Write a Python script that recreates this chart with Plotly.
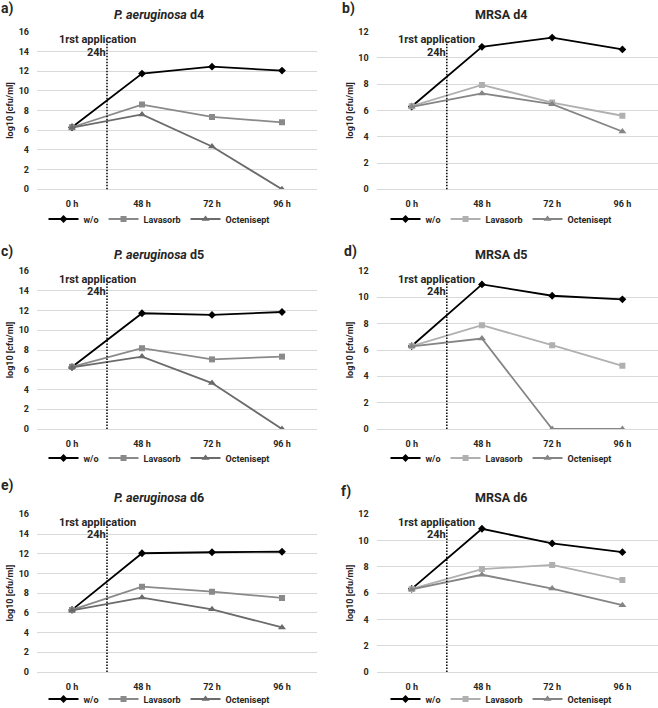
import plotly.graph_objects as go

categories = ["0 h", "48 h", "72 h", "96 h"]
series_names = ["w/o", "Lavasorb", "Octenisept"]

panel_labels = ["a)", "b)", "c)", "d)", "e)", "f)"]
panel_titles = ["<i>P. aeruginosa</i> d4", "MRSA d4",
                "<i>P. aeruginosa</i> d5", "MRSA d5",
                "<i>P. aeruginosa</i> d6", "MRSA d6"]

# values (log10 cfu/ml)
a_wo = [6.3, 11.75, 12.45, 12.05]
a_lav = [6.3, 8.6, 7.35, 6.8]
a_oct = [6.25, 7.6, 4.35, 0.0]

b_wo = [6.3, 10.85, 11.55, 10.65]
b_lav = [6.33, 7.95, 6.6, 5.6]
b_oct = [6.28, 7.3, 6.48, 4.4]

c_wo = [6.27, 11.72, 11.55, 11.85]
c_lav = [6.3, 8.18, 7.05, 7.33]
c_oct = [6.25, 7.33, 4.65, 0.0]

d_wo = [6.3, 10.98, 10.12, 9.85]
d_lav = [6.3, 7.88, 6.37, 4.8]
d_oct = [6.28, 6.87, 0.0, 0.0]

e_wo = [6.3, 12.05, 12.15, 12.2]
e_lav = [6.3, 8.66, 8.15, 7.52]
e_oct = [6.25, 7.55, 6.36, 4.52]

f_wo = [6.33, 10.9, 9.78, 9.12]
f_lav = [6.32, 7.83, 8.15, 7.0]
f_oct = [6.28, 7.4, 6.35, 5.08]

panels = [(a_wo, a_lav, a_oct), (b_wo, b_lav, b_oct),
          (c_wo, c_lav, c_oct), (d_wo, d_lav, d_oct),
          (e_wo, e_lav, e_oct), (f_wo, f_lav, f_oct)]
y_max = [16, 12, 16, 12, 16, 12]

annot_line1 = "1rst application"
annot_line2 = "24h"
y_title = "log10 [cfu/ml]"

# ---------- layout geometry ----------
W, H = 658, 708
FONT = "Roboto, Liberation Sans, sans-serif"
TXT = "#262626"

x_dom = {0: (37 / W, 317 / W), 1: (376.6 / W, 657.5 / W)}
rows_px = [(31.7, 189.3), (271.0, 429.0), (514.3, 672.0)]
title_y_px = [15, 254, 497]
label_px = [(7, 8), (349, 8), (7, 252), (350, 252), (7, 486), (346, 491)]
legend_y_px = [219, 458, 699]
title_x_px = {0: 159, 1: 501}

colors_left = ["#000000", "#8a8a8a", "#6b6b6b"]
colors_right = ["#000000", "#b0b0b0", "#858585"]
symbols = ["diamond", "square", "triangle-up"]
msizes = [6, 6, 7]

fig = go.Figure()
layout = dict(width=W, height=H,
              margin=dict(l=0, r=0, t=0, b=0, autoexpand=False),
              paper_bgcolor="white", plot_bgcolor="white",
              font=dict(family=FONT, color=TXT), showlegend=True)
annotations = []
shapes = []

for i, (vals, ym) in enumerate(zip(panels, y_max)):
    col = i % 2
    row = i // 2
    n = "" if i == 0 else str(i + 1)
    xa, ya = "x" + n, "y" + n
    leg = "legend" + n
    colors = colors_left if col == 0 else colors_right
    for k, (name, v) in enumerate(zip(series_names, vals)):
        fig.add_trace(go.Scatter(
            x=categories, y=v, name=name, mode="lines+markers",
            xaxis=xa, yaxis=ya, legend=leg,
            line=dict(color=colors[k], width=1.8),
            marker=dict(symbol=symbols[k], size=msizes[k], color=colors[k]),
            hoverinfo="skip"))
    top, bot = rows_px[row]
    layout["xaxis" + n] = dict(
        domain=list(x_dom[col]), anchor=ya, type="category",
        categoryorder="array", categoryarray=categories,
        range=[-0.5, 3.5], showgrid=False, showline=True, linecolor="#d9d9d9",
        linewidth=1, ticks="", ticklabelstandoff=6, automargin=False,
        tickfont=dict(size=9, family=FONT, color=TXT, weight="bold"),
        fixedrange=True)
    layout["yaxis" + n] = dict(
        domain=[1 - bot / H, 1 - top / H], anchor=xa, range=[0, ym], dtick=2,
        showgrid=True, gridcolor="#d9d9d9", gridwidth=1, zeroline=True,
        zerolinecolor="#d9d9d9", showline=False, ticks="", ticklabelstandoff=7,
        automargin=False,
        tickfont=dict(size=9, family=FONT, color=TXT, weight="bold"),
        title=dict(text=y_title, standoff=3,
                   font=dict(size=9, family=FONT, color=TXT, weight="bold")),
        fixedrange=True)
    layout[leg] = dict(
        orientation="h", x=title_x_px[col] / W, xanchor="center",
        y=1 - legend_y_px[row] / H, yanchor="middle", bgcolor="rgba(0,0,0,0)",
        font=dict(size=9, family=FONT, color=TXT, weight="bold"),
        itemwidth=30, tracegroupgap=0, itemclick=False, itemdoubleclick=False)
    # vertical dotted line: first application at 24h
    shapes.append(dict(type="line", xref=xa, yref=ya + " domain",
                       x0=0.5, x1=0.5, y0=0, y1=0.94,
                       line=dict(color="#000000", width=1.5, dash="1.5px,1.5px")))
    annotations.append(dict(text="<b>" + annot_line1 + "</b>", xref=xa + " domain",
                            yref=ya + " domain", x=0.215, y=0.948,
                            xanchor="center", yanchor="middle", showarrow=False,
                            font=dict(size=11, family=FONT, color=TXT)))
    annotations.append(dict(text="<b>" + annot_line2 + "</b>", xref=xa,
                            yref=ya + " domain", x=0.5, y=0.87,
                            xanchor="right", yanchor="middle", showarrow=False,
                            xshift=1,
                            font=dict(size=11, family=FONT, color=TXT)))
    annotations.append(dict(text="<b>" + panel_titles[i] + "</b>", xref="paper",
                            yref="paper", x=title_x_px[col] / W,
                            y=1 - title_y_px[row] / H, xanchor="center",
                            yanchor="middle", showarrow=False,
                            font=dict(size=12.5, family=FONT, color=TXT)))
    lx, ly = label_px[i]
    annotations.append(dict(text="<b>" + panel_labels[i] + "</b>", xref="paper",
                            yref="paper", x=lx / W, y=1 - ly / H,
                            xanchor="center", yanchor="middle", showarrow=False,
                            font=dict(size=14, family=FONT, color=TXT)))

layout["annotations"] = annotations
layout["shapes"] = shapes
fig.update_layout(**layout)
fig.write_html("out.html", config={"displayModeBar": False},
               post_script="document.body.style.margin='0';"
                           "document.body.style.overflow='hidden';")
